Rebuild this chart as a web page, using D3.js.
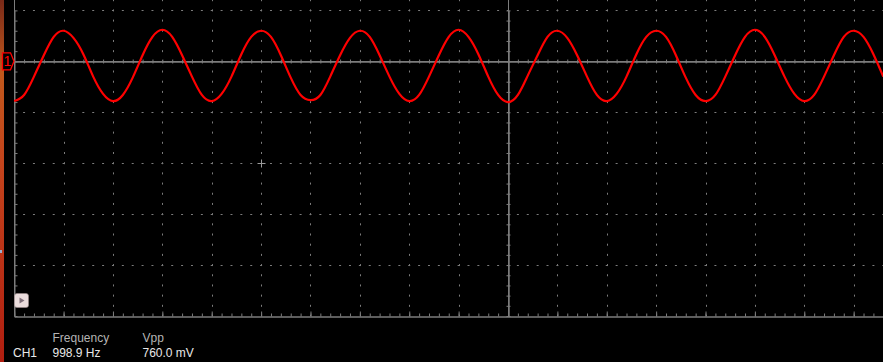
<!DOCTYPE html>
<html>
<head>
<meta charset="utf-8">
<script src="https://cdn.jsdelivr.net/npm/d3@7"></script>
<style>
    html, body { margin: 0; padding: 0; background: #000; }
    svg { display: block; }
</style>
</head>
<body>
<div id="svgContainer"></div>
<script>
// ch1 samples, 0.1 ms apart starting at -5.0 ms (volts)
const sampleStart = -5.0;
const sampleStep = 0.1;
const ch1Volts = [
    -0.39, -0.33, -0.15, 0.06, 0.24, 0.30, 0.23, 0.07, -0.15, -0.32,
    -0.39, -0.33, -0.16, 0.06, 0.24, 0.31, 0.24, 0.06, -0.15, -0.33,
    -0.39, -0.32, -0.15, 0.07, 0.24, 0.30, 0.24, 0.06, -0.16, -0.33,
    -0.38, -0.33, -0.15, 0.06, 0.23, 0.30, 0.24, 0.06, -0.15, -0.32,
    -0.39, -0.33, -0.15, 0.06, 0.24, 0.31, 0.24, 0.07, -0.15, -0.33,
    -0.40, -0.33, -0.14, 0.06, 0.24, 0.30, 0.23, 0.06, -0.15, -0.33,
    -0.39, -0.32, -0.15, 0.07, 0.24, 0.30, 0.24, 0.06, -0.16, -0.33,
    -0.39, -0.33, -0.15, 0.06, 0.24, 0.31, 0.24, 0.06, -0.15, -0.32,
    -0.39, -0.33, -0.15, 0.06, 0.24, 0.30, 0.24, 0.07, -0.15
];

// graticule: 500 us/div, 500 mV/div
const timeDivs = [-5, -4.5, -4, -3.5, -3, -2.5, -2, -1.5, -1, -0.5, 0, 0.5, 1, 1.5, 2, 2.5, 3, 3.5, 4, 4.5, 5];
const voltDivs = [0.5, 0, -0.5, -1, -1.5, -2, -2.5];

const measureLabels = ["Frequency", "Vpp"];
const measureValues = ["998.9 Hz", "760.0 mV"];
const channelName = "CH1";

var scopeScreen = (function () {
    const width = 883;
    const height = 362;
    const plotLeft = 14.2;
    const plotBottom = 316;
    const gridColor = "#7c7c7c";
    const traceColor = "#ff0000";
    let svg, x, y;

    function init() {
        svg = d3.select("#svgContainer")
            .append("svg")
            .attr("width", width)
            .attr("height", height)
            .style("background", "#000");

        x = d3.scaleLinear().domain([-5, 5]).range([plotLeft, plotLeft + 987.6]);
        y = d3.scaleLinear().domain([-2.5, 0.5]).range([plotBottom, 10.4]);

        drawSideStrip();
        drawGrid();
        drawAxes();
        drawTrace();
        drawMarkers();
        drawMeasurements();
    }

    function drawSideStrip() {
        let grad = svg.append("defs").append("linearGradient")
            .attr("id", "strip")
            .attr("x1", 0).attr("y1", 0).attr("x2", 0).attr("y2", 1);
        grad.append("stop").attr("offset", "0%").attr("stop-color", "#7a2a18");
        grad.append("stop").attr("offset", "20%").attr("stop-color", "#c0581c");
        grad.append("stop").attr("offset", "45%").attr("stop-color", "#c4441c");
        grad.append("stop").attr("offset", "100%").attr("stop-color", "#b01e10");
        svg.append("rect")
            .attr("x", 0).attr("y", 0)
            .attr("width", 4).attr("height", height)
            .attr("fill", "url(#strip)");
        svg.append("rect")
            .attr("x", 0).attr("y", 250)
            .attr("width", 2).attr("height", 3)
            .attr("fill", "#9ab0d0");
    }

    function drawGrid() {
        let minorX = (x(0.1) - x(0));
        let minorY = (y(0) - y(0.1));

        svg.selectAll(".vgrid")
            .data(timeDivs.filter(t => t > -5 && t !== 0))
            .enter().append("line")
            .attr("class", "vgrid")
            .attr("x1", d => Math.round(x(d)) + 0.5)
            .attr("x2", d => Math.round(x(d)) + 0.5)
            .attr("y1", plotBottom)
            .attr("y2", 0)
            .attr("stroke", gridColor)
            .attr("stroke-width", 1)
            .attr("stroke-dasharray", "2," + (minorY - 2))
            .attr("stroke-dashoffset", 1);

        svg.selectAll(".hgrid")
            .data(voltDivs.filter(v => v !== 0 && v !== -2.5))
            .enter().append("line")
            .attr("class", "hgrid")
            .attr("x1", plotLeft)
            .attr("x2", width)
            .attr("y1", d => Math.round(y(d)) + 0.5)
            .attr("y2", d => Math.round(y(d)) + 0.5)
            .attr("stroke", gridColor)
            .attr("stroke-width", 1)
            .attr("stroke-dasharray", "2," + (minorX - 2))
            .attr("stroke-dashoffset", 1);
    }

    function minorTicks(domain, step) {
        let out = [];
        let n = Math.round((domain[1] - domain[0]) / step);
        for (let i = 0; i <= n; i++) out.push(+(domain[0] + i * step).toFixed(2));
        return out;
    }

    function styleAxis(g) {
        g.selectAll("path.domain").attr("stroke", gridColor);
        g.selectAll(".tick line").attr("stroke", gridColor);
        g.selectAll("text").remove();
    }

    function drawAxes() {
        let tTicks = minorTicks([-5, 3.8], 0.1);
        let vTicks = minorTicks([-2.5, 0.5], 0.1);

        // bottom edge, ticks pointing up
        svg.append("g")
            .attr("transform", "translate(0," + (plotBottom + 0.5) + ")")
            .call(d3.axisTop(x).tickValues(tTicks).tickSize(3).tickSizeOuter(0).tickFormat(""))
            .call(styleAxis);
        svg.append("g")
            .attr("transform", "translate(0," + (plotBottom + 0.5) + ")")
            .call(d3.axisTop(x).tickValues(timeDivs.filter(t => t < 4)).tickSize(5).tickSizeOuter(0).tickFormat(""))
            .call(styleAxis);

        // left edge, ticks pointing right
        let xl = Math.round(plotLeft) + 0.5;
        svg.append("g")
            .attr("transform", "translate(" + xl + ",0)")
            .call(d3.axisRight(y).tickValues(vTicks).tickSize(3).tickSizeOuter(0).tickFormat(""))
            .call(styleAxis);
        svg.append("line")
            .attr("x1", xl).attr("x2", xl)
            .attr("y1", 0).attr("y2", plotBottom)
            .attr("stroke", gridColor);

        // centre horizontal line (channel 1 ground)
        let yc = Math.round(y(0)) + 0.5;
        [d3.axisTop, d3.axisBottom].forEach(ax => {
            svg.append("g")
                .attr("transform", "translate(0," + yc + ")")
                .call(ax(x).tickValues(tTicks.filter(t => t > -5)).tickSize(2).tickSizeOuter(0).tickFormat(""))
                .call(styleAxis);
        });
        svg.append("line")
            .attr("x1", plotLeft).attr("x2", width)
            .attr("y1", yc).attr("y2", yc)
            .attr("stroke", gridColor);

        // centre vertical line (trigger time)
        let xc = Math.round(x(0)) + 0.5;
        [d3.axisLeft, d3.axisRight].forEach(ax => {
            svg.append("g")
                .attr("transform", "translate(" + xc + ",0)")
                .call(ax(y).tickValues(vTicks).tickSize(2).tickSizeOuter(0).tickFormat(""))
                .call(styleAxis);
        });
        svg.append("line")
            .attr("x1", xc).attr("x2", xc)
            .attr("y1", 0).attr("y2", plotBottom)
            .attr("stroke", gridColor);
    }

    function drawTrace() {
        let pts = ch1Volts.map((v, i) => ({ t: sampleStart + i * sampleStep, v: v }));
        let line = d3.line()
            .x(d => x(d.t))
            .y(d => y(d.v))
            .curve(d3.curveNatural);
        svg.append("path")
            .datum(pts)
            .attr("d", line)
            .attr("fill", "none")
            .attr("stroke", traceColor)
            .attr("stroke-width", 2.2);
    }

    function drawMarkers() {
        // small cross on the graticule
        let cx = Math.round(x(-2.5)) + 0.5;
        let cy = Math.round(y(-1)) + 0.5;
        svg.append("path")
            .attr("d", `M${cx - 4},${cy}H${cx + 4}M${cx},${cy - 4}V${cy + 4}`)
            .attr("stroke", "#9a9a9a")
            .attr("stroke-width", 1);

        // channel 1 ground marker
        let gy = y(0);
        svg.append("path")
            .attr("d", `M2.5,${gy - 8.5}H10.5L14,${gy}L10.5,${gy + 8.5}H2.5Z`)
            .attr("fill", "#000")
            .attr("stroke", traceColor)
            .attr("stroke-width", 1.3);
        svg.append("text")
            .attr("x", 7.5).attr("y", gy + 5)
            .attr("text-anchor", "middle")
            .attr("font-family", "Liberation Sans, Arial, sans-serif")
            .attr("font-size", 14)
            .attr("fill", traceColor)
            .text("1");

        // run/play button
        svg.append("rect")
            .attr("x", 14.5).attr("y", 293.5)
            .attr("width", 14).attr("height", 14)
            .attr("rx", 2.5)
            .attr("fill", "#eadcdc")
            .attr("stroke", "#9a8a8a")
            .attr("stroke-width", 0.6);
        svg.append("path")
            .attr("d", "M19.5,297.5L24.5,300.5L19.5,303.5Z")
            .attr("fill", "#80707a");
    }

    function drawMeasurements() {
        let font = "Liberation Sans, Arial, sans-serif";
        let cols = [52.5, 142.5];
        svg.append("text")
            .attr("x", 13).attr("y", 357)
            .attr("font-family", font).attr("font-size", 12)
            .attr("fill", "#e8e8e8")
            .text(channelName);
        measureLabels.forEach((l, i) => {
            svg.append("text")
                .attr("x", cols[i]).attr("y", 342)
                .attr("font-family", font).attr("font-size", 12)
                .attr("fill", "#b4b4b4")
                .text(l);
            svg.append("text")
                .attr("x", cols[i]).attr("y", 357)
                .attr("font-family", font).attr("font-size", 12)
                .attr("fill", "#e8e8e8")
                .text(measureValues[i]);
        });
    }

    return { init: init };
})();

scopeScreen.init();
</script>
</body>
</html>
